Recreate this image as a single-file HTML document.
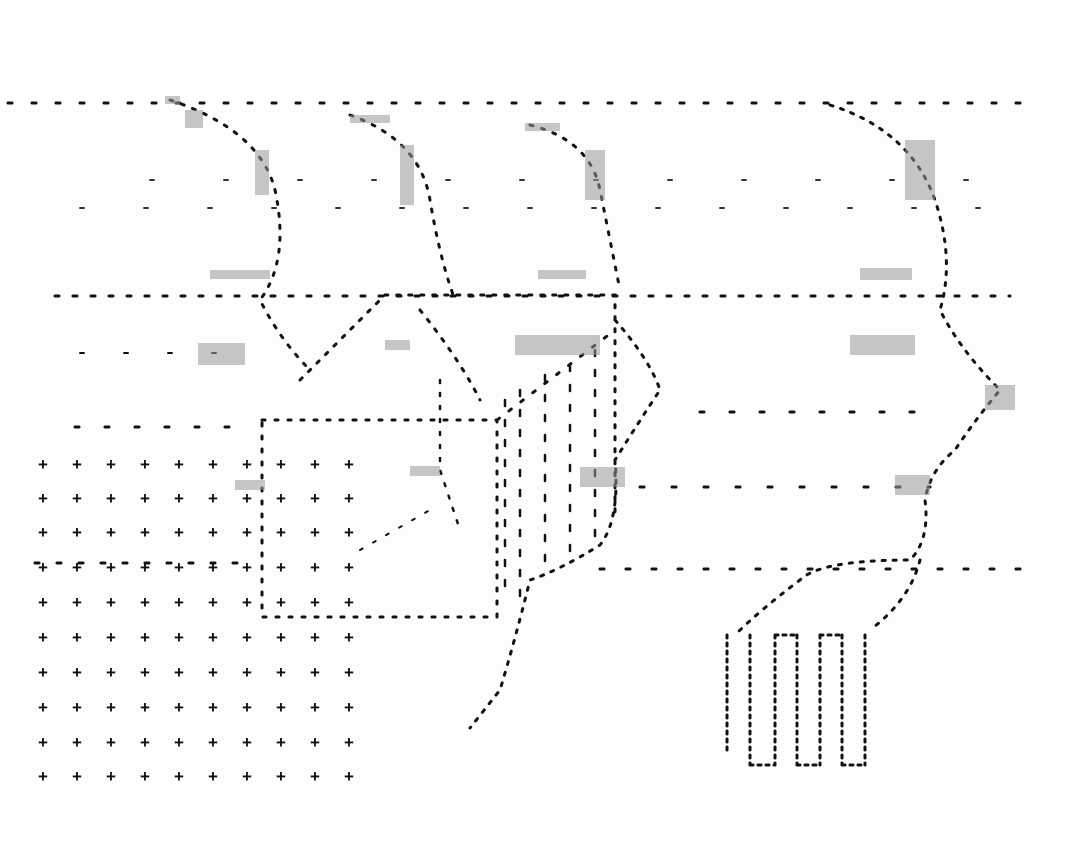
<!DOCTYPE html>
<html><head><meta charset="utf-8"><style>
html,body{margin:0;padding:0;background:#fdfdfd;}
svg{display:block}
</style></head><body>
<svg width="1065" height="868" viewBox="0 0 1065 868" xmlns="http://www.w3.org/2000/svg">
<rect width="1065" height="868" fill="#fdfdfd"/>
<g fill="none" stroke="#111" stroke-linecap="round">
<path d="M8 103 H1020" stroke-width="3" stroke-dasharray="4 20"/>
<path d="M55 296 H1010" stroke-width="3" stroke-dasharray="4 14"/>
<path d="M75 427 H250" stroke-width="3" stroke-dasharray="4 26"/>
<path d="M700 412 H930" stroke-width="3" stroke-dasharray="4 26"/>
<path d="M640 487 H930" stroke-width="3" stroke-dasharray="4 28"/>
<path d="M35 563 H250" stroke-width="3" stroke-dasharray="4 18"/>
<path d="M600 569 H1025" stroke-width="3" stroke-dasharray="4 22"/>
<path d="M80 353 H240" stroke-width="2" stroke-dasharray="4 40"/>
<path d="M80 208 H1000" stroke-width="2" stroke-dasharray="4 60" stroke="#333"/>
<path d="M150 180 H1010" stroke-width="2" stroke-dasharray="4 70" stroke="#333"/>
<rect x="262" y="420" width="235" height="197" stroke-width="3" stroke-dasharray="3 10"/>
<path d="M300 380 L385 295 H615 V520" stroke-width="3" stroke-dasharray="3 9"/>
<path d="M497 420 L615 330" stroke-width="3" stroke-dasharray="3 12"/>
<path d="M505 400 V600 M520 390 V600 M545 375 V570 M570 365 V560 M595 350 V550" stroke-width="2.5" stroke-dasharray="6 14"/>
<path d="M170 100 Q260 130 275 190 Q290 260 260 300 Q280 340 310 370" stroke-width="3" stroke-dasharray="3 9"/>
<path d="M350 115 Q420 140 430 200 Q440 260 455 300" stroke-width="3" stroke-dasharray="3 9"/>
<path d="M420 310 Q460 360 480 400" stroke-width="3" stroke-dasharray="3 9"/>
<path d="M530 125 Q590 140 600 190 Q610 240 620 290" stroke-width="3" stroke-dasharray="3 9"/>
<path d="M615 320 Q650 360 660 390 Q640 420 615 460 Q620 520 600 545 Q560 570 530 580 Q515 640 500 690 L470 728" stroke-width="3" stroke-dasharray="3 8"/>
<path d="M830 105 Q910 130 935 200 Q955 260 940 310 Q960 350 1000 390 Q975 420 955 450 Q930 470 925 500 Q930 540 910 560 Q820 560 800 580 Q760 610 735 635" stroke-width="3" stroke-dasharray="3 8"/>
<path d="M920 560 Q910 600 870 630" stroke-width="3" stroke-dasharray="3 8"/>
<path d="M440 380 V470 L460 530" stroke-width="2.5" stroke-dasharray="3 10"/>
<path d="M360 550 L430 510" stroke-width="2" stroke-dasharray="3 12"/>
<path d="M727 635 V755 M750 635 V765 M775 635 V765 M797 635 V765 M820 635 V765 M842 635 V765 M865 635 V765 M750 765 H775 M797 765 H820 M842 765 H865 M775 635 H797 M820 635 H842" stroke-width="3" stroke-dasharray="3 5"/>
</g>
<g fill="#999" opacity="0.55">
<rect x="165" y="96" width="15" height="8"/><rect x="185" y="110" width="18" height="18"/>
<rect x="255" y="150" width="14" height="45"/><rect x="210" y="270" width="60" height="9"/>
<rect x="198" y="343" width="47" height="22"/><rect x="400" y="145" width="14" height="60"/>
<rect x="350" y="115" width="40" height="8"/><rect x="538" y="270" width="48" height="9"/>
<rect x="585" y="150" width="20" height="50"/><rect x="525" y="123" width="35" height="8"/>
<rect x="860" y="268" width="52" height="12"/><rect x="905" y="140" width="30" height="60"/>
<rect x="850" y="335" width="65" height="20"/><rect x="515" y="335" width="85" height="20"/>
<rect x="385" y="340" width="25" height="10"/><rect x="410" y="466" width="30" height="10"/>
<rect x="580" y="467" width="45" height="20"/><rect x="895" y="475" width="35" height="20"/>
<rect x="985" y="385" width="30" height="25"/><rect x="235" y="480" width="30" height="10"/>
</g>
<g font-family="Liberation Sans, sans-serif" font-size="17" font-weight="bold" fill="#111" text-anchor="middle">
<text x="43" y="470">+</text><text x="77" y="470">+</text><text x="111" y="470">+</text><text x="145" y="470">+</text><text x="179" y="470">+</text><text x="213" y="470">+</text><text x="247" y="470">+</text><text x="281" y="470">+</text><text x="315" y="470">+</text><text x="349" y="470">+</text>
<text x="43" y="504">+</text><text x="77" y="504">+</text><text x="111" y="504">+</text><text x="145" y="504">+</text><text x="179" y="504">+</text><text x="213" y="504">+</text><text x="247" y="504">+</text><text x="281" y="504">+</text><text x="315" y="504">+</text><text x="349" y="504">+</text>
<text x="43" y="538">+</text><text x="77" y="538">+</text><text x="111" y="538">+</text><text x="145" y="538">+</text><text x="179" y="538">+</text><text x="213" y="538">+</text><text x="247" y="538">+</text><text x="281" y="538">+</text><text x="315" y="538">+</text><text x="349" y="538">+</text>
<text x="43" y="573">+</text><text x="77" y="573">+</text><text x="111" y="573">+</text><text x="145" y="573">+</text><text x="179" y="573">+</text><text x="213" y="573">+</text><text x="247" y="573">+</text><text x="281" y="573">+</text><text x="315" y="573">+</text><text x="349" y="573">+</text>
<text x="43" y="608">+</text><text x="77" y="608">+</text><text x="111" y="608">+</text><text x="145" y="608">+</text><text x="179" y="608">+</text><text x="213" y="608">+</text><text x="247" y="608">+</text><text x="281" y="608">+</text><text x="315" y="608">+</text><text x="349" y="608">+</text>
<text x="43" y="643">+</text><text x="77" y="643">+</text><text x="111" y="643">+</text><text x="145" y="643">+</text><text x="179" y="643">+</text><text x="213" y="643">+</text><text x="247" y="643">+</text><text x="281" y="643">+</text><text x="315" y="643">+</text><text x="349" y="643">+</text>
<text x="43" y="678">+</text><text x="77" y="678">+</text><text x="111" y="678">+</text><text x="145" y="678">+</text><text x="179" y="678">+</text><text x="213" y="678">+</text><text x="247" y="678">+</text><text x="281" y="678">+</text><text x="315" y="678">+</text><text x="349" y="678">+</text>
<text x="43" y="713">+</text><text x="77" y="713">+</text><text x="111" y="713">+</text><text x="145" y="713">+</text><text x="179" y="713">+</text><text x="213" y="713">+</text><text x="247" y="713">+</text><text x="281" y="713">+</text><text x="315" y="713">+</text><text x="349" y="713">+</text>
<text x="43" y="748">+</text><text x="77" y="748">+</text><text x="111" y="748">+</text><text x="145" y="748">+</text><text x="179" y="748">+</text><text x="213" y="748">+</text><text x="247" y="748">+</text><text x="281" y="748">+</text><text x="315" y="748">+</text><text x="349" y="748">+</text>
<text x="43" y="782">+</text><text x="77" y="782">+</text><text x="111" y="782">+</text><text x="145" y="782">+</text><text x="179" y="782">+</text><text x="213" y="782">+</text><text x="247" y="782">+</text><text x="281" y="782">+</text><text x="315" y="782">+</text><text x="349" y="782">+</text>
</g>
</svg>
</body></html>
